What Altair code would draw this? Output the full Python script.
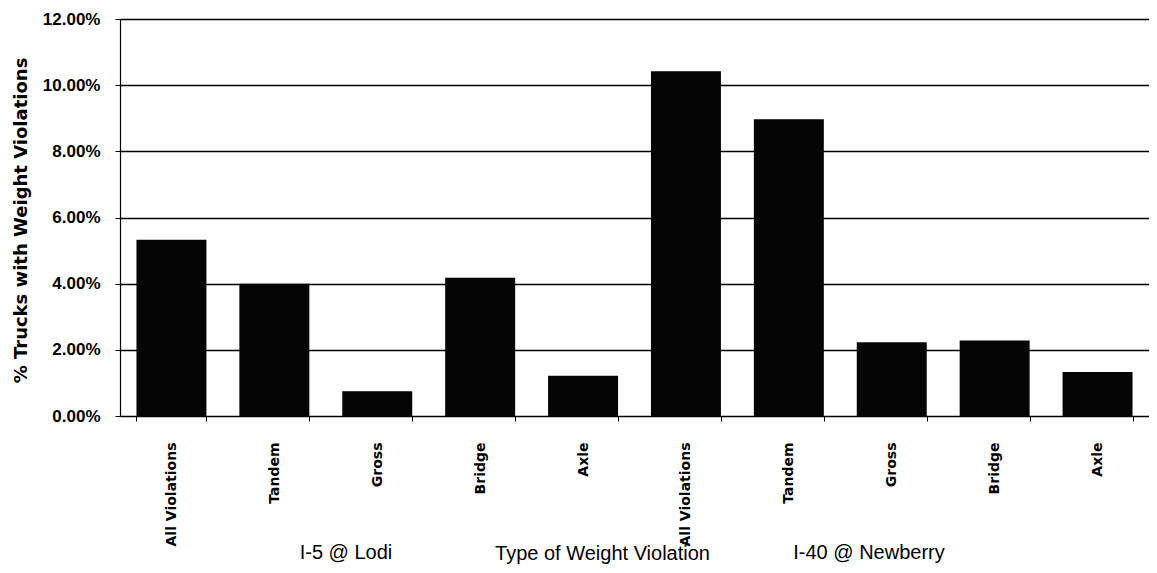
import altair as alt
import pandas as pd

sites = ["I-5 @ Lodi"] * 5 + ["I-40 @ Newberry"] * 5
violation_types = ["All Violations", "Tandem", "Gross", "Bridge", "Axle",
                   "All Violations", "Tandem", "Gross", "Bridge", "Axle"]
pct_values = [5.33, 4.00, 0.75, 4.18, 1.22, 10.42, 8.97, 2.23, 2.28, 1.33]
y_ticks = [0, 0.02, 0.04, 0.06, 0.08, 0.10, 0.12]
group_labels = ["I-5 @ Lodi", "I-40 @ Newberry"]
x_title = "Type of Weight Violation"
y_title = "% Trucks with Weight Violations"

keys = [f"{s}|{v}" for s, v in zip(sites, violation_types)]
df = pd.DataFrame({"key": keys, "site": sites, "type": violation_types,
                   "pct": pct_values})

W, H = 1029, 397

bars = alt.Chart(df).transform_calculate(
    frac="datum.pct / 100"
).mark_bar(color="#050505").encode(
    x=alt.X("key:N", sort=keys,
            scale=alt.Scale(paddingInner=0.32, paddingOuter=0.16),
            axis=alt.Axis(
                labelExpr="split(datum.label, '|')[1]",
                labelAngle=-90,
                labelFont="DejaVu Sans", labelFontWeight="bold",
                labelFontSize=14, labelColor="black",
                labelPadding=21,
                tickBand="extent", tickSize=5, tickColor="black",
                domainColor="black", domainWidth=1.2,
                title=x_title, titleFont="Liberation Sans",
                titleFontWeight="normal", titleFontSize=20,
                titleColor="black", titleX=482, titleY=143,
                titleAlign="center", titleBaseline="alphabetic",
                grid=False)),
    y=alt.Y("frac:Q",
            scale=alt.Scale(domain=[0, 0.12], nice=False),
            axis=alt.Axis(
                values=y_ticks, format=".2%",
                labelFont="Liberation Sans", labelFontWeight="bold",
                labelFontSize=17, labelColor="black", labelPadding=15,
                tickSize=5, tickColor="black",
                domainColor="black", domainWidth=1.2,
                grid=True, gridColor="black", gridWidth=1.3, gridOpacity=1,
                title=y_title, titleFont="DejaVu Sans",
                titleFontWeight="bold", titleFontSize=18, titleColor="black",
                titleAngle=-90, titleX=-99, titleY=201,
                titleAlign="center", titleBaseline="middle")),
)

lbl_df1 = pd.DataFrame({"label": [group_labels[0]]})
lbl_df2 = pd.DataFrame({"label": [group_labels[1]]})

lbl1 = alt.Chart(lbl_df1).mark_text(
    font="Liberation Sans", fontSize=20, color="black",
    align="center", baseline="alphabetic"
).encode(text="label:N", x=alt.value(226), y=alt.value(540))

lbl2 = alt.Chart(lbl_df2).mark_text(
    font="Liberation Sans", fontSize=20, color="black",
    align="center", baseline="alphabetic"
).encode(text="label:N", x=alt.value(749), y=alt.value(540))

chart = alt.layer(bars, lbl1, lbl2).properties(
    width=W, height=H,
    autosize=alt.AutoSizeParams(type="none"),
    padding={"left": 112, "top": 11, "right": 0, "bottom": 149},
    background="white",
).configure_view(stroke=None)

chart.save("out.html", embed_options={"renderer": "svg", "actions": False})
